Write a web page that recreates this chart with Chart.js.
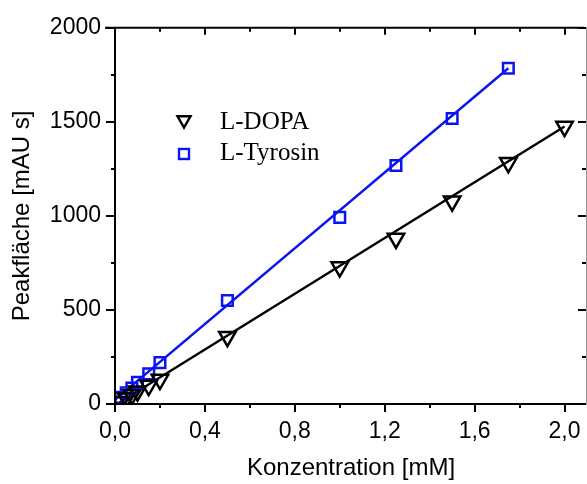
<!DOCTYPE html>
<html><head><meta charset="utf-8">
<script src="https://cdn.jsdelivr.net/npm/chart.js@4/dist/chart.umd.min.js"></script>
<style>html,body{margin:0;padding:0;background:#fff}</style>
</head><body>
<canvas id="c" width="587" height="484"></canvas>
<script>
// ---- data ----
const dopaConc = [0.025, 0.05, 0.075, 0.1, 0.15, 0.2, 0.5, 1.0, 1.25, 1.5, 1.75, 2.0];
const dopaArea = [12, 30, 48, 68, 98, 130, 358, 728, 880, 1078, 1282, 1475];
const tyrConc = [0.025, 0.05, 0.075, 0.1, 0.15, 0.2, 0.5, 1.0, 1.25, 1.5, 1.75];
const tyrArea = [35, 60, 85, 115, 160, 220, 550, 992, 1268, 1518, 1785];
// fitted regression lines (end points)
const dopaFitX = [0.02, 2.0];
const dopaFitY = [8, 1475];
const tyrFitX = [0.0, 1.75];
const tyrFitY = [22, 1785];
// ticks
const xTickValues = [0, 0.2, 0.4, 0.6, 0.8, 1.0, 1.2, 1.4, 1.6, 1.8, 2.0];
const xLabelValues = [0, 0.4, 0.8, 1.2, 1.6, 2.0];
const yTickValues = [0, 250, 500, 750, 1000, 1250, 1500, 1750, 2000];
const yLabelValues = [0, 500, 1000, 1500, 2000];
const seriesNames = ['L-DOPA', 'L-Tyrosin'];

const BLUE = '#0a14f0';
const toPts = (xs, ys) => xs.map((x, i) => ({x: x, y: ys[i]}));
const isIn = (arr, v) => arr.some(a => Math.abs(a - v) < 1e-6);

const framePlugin = {
  id: 'frame',
  afterDatasetsDraw(chart) {
    const ctx = chart.ctx, a = chart.chartArea;
    const xs = chart.scales.x, ys = chart.scales.y;
    ctx.save();
    ctx.strokeStyle = '#000';
    ctx.lineWidth = 2;
    ctx.lineCap = 'butt';
    ctx.beginPath();
    ctx.moveTo(a.left, a.top - 1); ctx.lineTo(a.left, a.bottom + 1);
    ctx.moveTo(a.left - 1, a.bottom); ctx.lineTo(a.right - 3, a.bottom);
    ctx.moveTo(a.left - 10, a.top); ctx.lineTo(a.right - 3, a.top);
    ctx.stroke();
    ctx.lineWidth = 1;
    ctx.strokeStyle = '#999';
    ctx.beginPath();
    ctx.moveTo(a.right - 0.5, a.top - 1); ctx.lineTo(a.right - 0.5, a.bottom + 1);
    ctx.stroke();
    ctx.lineWidth = 2;
    ctx.strokeStyle = '#000';
    ctx.beginPath();
    xTickValues.forEach(v => {
      const px = Math.round(xs.getPixelForValue(v));
      const major = isIn(xLabelValues, v);
      ctx.moveTo(px, a.bottom); ctx.lineTo(px, a.bottom + (major ? 8 : 4));
      ctx.moveTo(px, a.top); ctx.lineTo(px, a.top + (major ? 7 : 4));
    });
    yTickValues.forEach(v => {
      const py = Math.round(ys.getPixelForValue(v));
      const major = isIn(yLabelValues, v);
      ctx.moveTo(a.left, py); ctx.lineTo(a.left - (major ? 9 : 4), py);
      ctx.moveTo(a.right - 1, py); ctx.lineTo(a.right - 1 - (major ? 8 : 4), py);
    });
    ctx.stroke();

    // legend
    const lx = 184;
    ctx.lineWidth = 2.4;
    ctx.strokeStyle = '#000';
    ctx.beginPath();
    const r = 7.5, ty = 120;
    ctx.moveTo(lx - r * 0.866, ty - r * 0.5);
    ctx.lineTo(lx + r * 0.866, ty - r * 0.5);
    ctx.lineTo(lx, ty + r);
    ctx.closePath();
    ctx.stroke();
    ctx.strokeStyle = BLUE;
    ctx.strokeRect(lx - 5, 149, 10, 10);
    ctx.fillStyle = '#000';
    ctx.font = '25px "Liberation Serif", "Times New Roman", serif';
    ctx.textBaseline = 'alphabetic';
    ctx.textAlign = 'left';
    ctx.fillText(seriesNames[0], 220, 129);
    ctx.fillText(seriesNames[1], 220, 160);
    ctx.restore();
  }
};

new Chart(document.getElementById('c'), {
  type: 'scatter',
  data: {
    datasets: [
      {label: seriesNames[0] + ' fit', data: toPts(dopaFitX, dopaFitY), showLine: true,
       borderColor: '#000', borderWidth: 2.4, pointRadius: 0, order: 3},
      {label: seriesNames[1] + ' fit', data: toPts(tyrFitX, tyrFitY), showLine: true,
       borderColor: BLUE, borderWidth: 2.4, pointRadius: 0, order: 4},
      {label: seriesNames[0], data: toPts(dopaConc, dopaArea), pointStyle: 'triangle',
       rotation: 180, pointRadius: 9.5, pointBorderWidth: 2.5, borderColor: '#000',
       backgroundColor: 'rgba(0,0,0,0)', order: 1},
      {label: seriesNames[1], data: toPts(tyrConc, tyrArea), pointStyle: 'rect',
       pointRadius: 7.5, pointBorderWidth: 2.5, borderColor: BLUE,
       backgroundColor: 'rgba(0,0,0,0)', order: 2}
    ]
  },
  options: {
    responsive: false,
    animation: false,
    events: [],
    layout: {autoPadding: false, padding: {top: 24, right: 0, left: 0, bottom: 0}},
    plugins: {legend: {display: false}, tooltip: {enabled: false}},
    scales: {
      x: {
        type: 'linear', min: 0, max: 2.1,
        grid: {display: false, drawTicks: false},
        border: {display: false},
        afterBuildTicks: s => { s.ticks = xTickValues.concat([2.1]).map(v => ({value: v})); },
        afterFit: s => { s.height = 80; s.paddingRight = 0; s.paddingLeft = 0; },
        ticks: {
          autoSkip: false, maxRotation: 0, padding: 14, color: '#000',
          font: {family: '"Liberation Sans", Arial, sans-serif', size: 23},
          callback: v => isIn(xLabelValues, v) ? v.toFixed(1).replace('.', ',') : ''
        },
        title: {display: true, text: 'Konzentration [mM]', color: '#000',
          font: {family: '"Liberation Sans", Arial, sans-serif', size: 24},
          padding: {top: 0, bottom: 1}}
      },
      y: {
        type: 'linear', min: 0, max: 2000,
        grid: {display: false, drawTicks: false},
        border: {display: false},
        afterBuildTicks: s => { s.ticks = yTickValues.map(v => ({value: v})); },
        afterFit: s => { s.width = 115; },
        ticks: {
          autoSkip: false, padding: 14, color: '#000',
          font: {family: '"Liberation Sans", Arial, sans-serif', size: 23},
          callback: v => isIn(yLabelValues, v) ? String(v) : ''
        },
        title: {display: true, text: 'Peakfläche [mAU s]', color: '#000',
          font: {family: '"Liberation Sans", Arial, sans-serif', size: 24},
          padding: {top: 8, bottom: 0}}
      }
    }
  },
  plugins: [framePlugin]
});
</script>
</body></html>
